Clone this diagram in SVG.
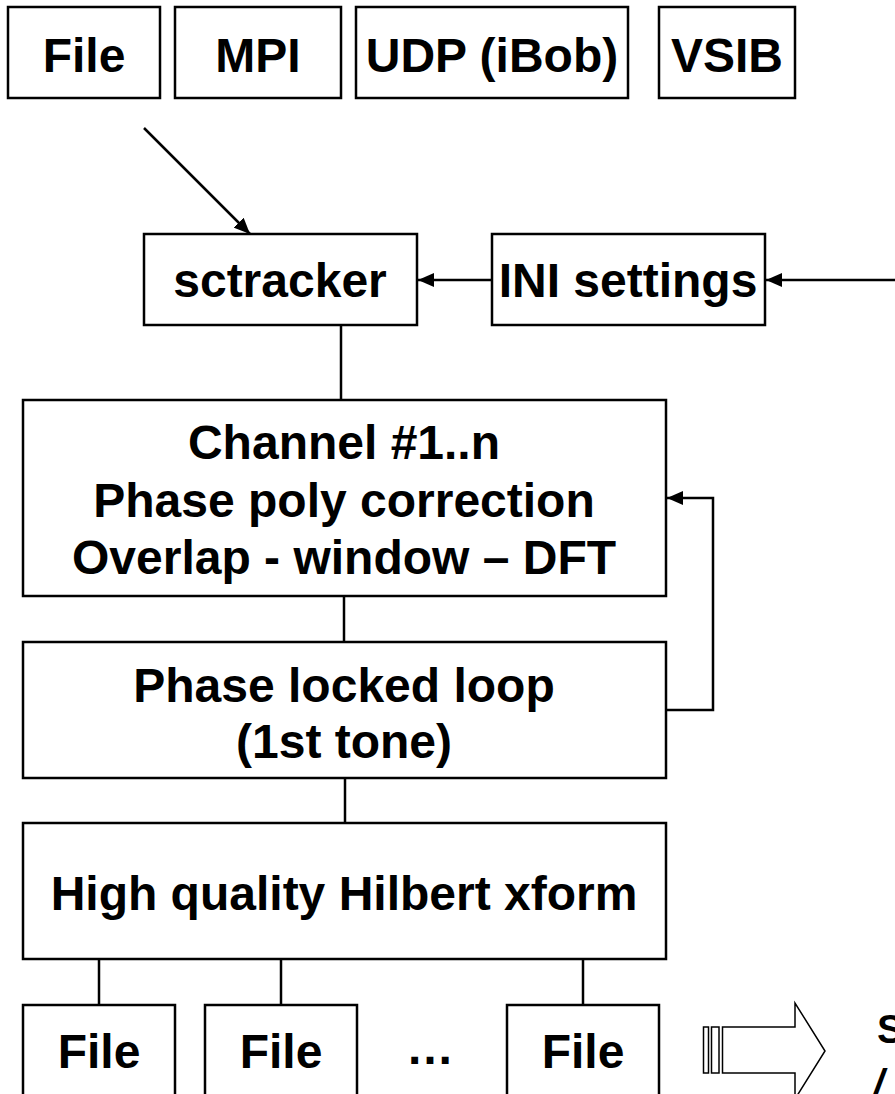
<svg xmlns="http://www.w3.org/2000/svg" width="895" height="1094" viewBox="0 0 895 1094">
<style>
.box{fill:#fff;stroke:#000;stroke-width:2.5}
.t{font-family:"Liberation Sans",Arial,sans-serif;font-weight:bold;font-size:48px;fill:#000;text-anchor:middle}
.c{fill:none;stroke:#000;stroke-width:2.5}
</style>
<defs>
<marker id="ah" viewBox="0 0 16 14" refX="16" refY="7" markerWidth="16" markerHeight="14" markerUnits="userSpaceOnUse" orient="auto">
<path d="M0,0 L16,7 L0,14 Z" fill="#000"/>
</marker>
</defs>
<g id="connectors">
<line class="c" x1="144" y1="128" x2="250" y2="234" marker-end="url(#ah)"/>
<line class="c" x1="492" y1="280" x2="418" y2="280" marker-end="url(#ah)"/>
<line class="c" x1="895" y1="280" x2="766" y2="280" marker-end="url(#ah)"/>
<line class="c" x1="341" y1="325" x2="341" y2="400"/>
<line class="c" x1="344" y1="596" x2="344" y2="642"/>
<rect x="342" y="593" width="4" height="3" fill="none" stroke="#000" stroke-width="1"/>
<polyline class="c" points="666,710 713,710 713,498 667,498" marker-end="url(#ah)"/>
<line class="c" x1="345" y1="778" x2="345" y2="823"/>
<line class="c" x1="99" y1="959" x2="99" y2="1005"/>
<line class="c" x1="281" y1="959" x2="281" y2="1005"/>
<line class="c" x1="583" y1="959" x2="583" y2="1005"/>
</g>
<g id="n-file-in"><rect class="box" x="8" y="7" width="152" height="91"/><text class="t" x="84" y="72">File</text></g>
<g id="n-mpi"><rect class="box" x="175" y="7" width="166" height="91"/><text class="t" x="258" y="72">MPI</text></g>
<g id="n-udp"><rect class="box" x="356" y="7" width="272" height="91"/><text class="t" x="492" y="72">UDP (iBob)</text></g>
<g id="n-vsib"><rect class="box" x="659" y="7" width="136" height="91"/><text class="t" x="727" y="72">VSIB</text></g>
<g id="n-sctracker"><rect class="box" x="144" y="234" width="273" height="91"/><text class="t" x="280" y="297">sctracker</text></g>
<g id="n-ini"><rect class="box" x="492" y="234" width="273" height="91"/><text class="t" x="628" y="297">INI settings</text></g>
<g id="n-channel"><rect class="box" x="23" y="400" width="643" height="196"/>
<text class="t" x="344" y="459">Channel #1..n</text>
<text class="t" x="344" y="517">Phase poly correction</text>
<text class="t" x="344" y="574">Overlap - window – DFT</text></g>
<g id="n-pll"><rect class="box" x="23" y="642" width="643" height="136"/>
<text class="t" x="344" y="702">Phase locked loop</text>
<text class="t" x="344" y="758">(1st tone)</text></g>
<g id="n-hilbert"><rect class="box" x="23" y="823" width="643" height="136"/>
<text class="t" x="344" y="910">High quality Hilbert xform</text></g>
<g id="n-file1"><rect class="box" x="23" y="1005" width="152" height="100"/><text class="t" x="99" y="1068">File</text></g>
<g id="n-file2"><rect class="box" x="205" y="1005" width="152" height="100"/><text class="t" x="281" y="1068">File</text></g>
<g id="n-dots"><text class="t" x="430" y="1064">…</text></g>
<g id="n-file3"><rect class="box" x="507" y="1005" width="152" height="100"/><text class="t" x="583" y="1068">File</text></g>
<g id="n-bigarrow">
<rect x="703.5" y="1027" width="5" height="46" fill="#fff" stroke="#000" stroke-width="1.5"/>
<rect x="711.5" y="1027" width="7.5" height="46" fill="#fff" stroke="#000" stroke-width="1.5"/>
<path d="M722.5,1027 L795,1027 L795,1003 L825,1051 L795,1099 L795,1073 L722.5,1073 Z" fill="#fff" stroke="#000" stroke-width="1.5"/>
</g>
<g id="n-label">
<text x="877" y="1043" font-family="Liberation Sans,Arial,sans-serif" font-weight="bold" font-size="40" fill="#000">S</text>
<text x="873" y="1098" font-family="Liberation Sans,Arial,sans-serif" font-weight="bold" font-style="italic" font-size="40" fill="#000">/</text>
</g>
</svg>
